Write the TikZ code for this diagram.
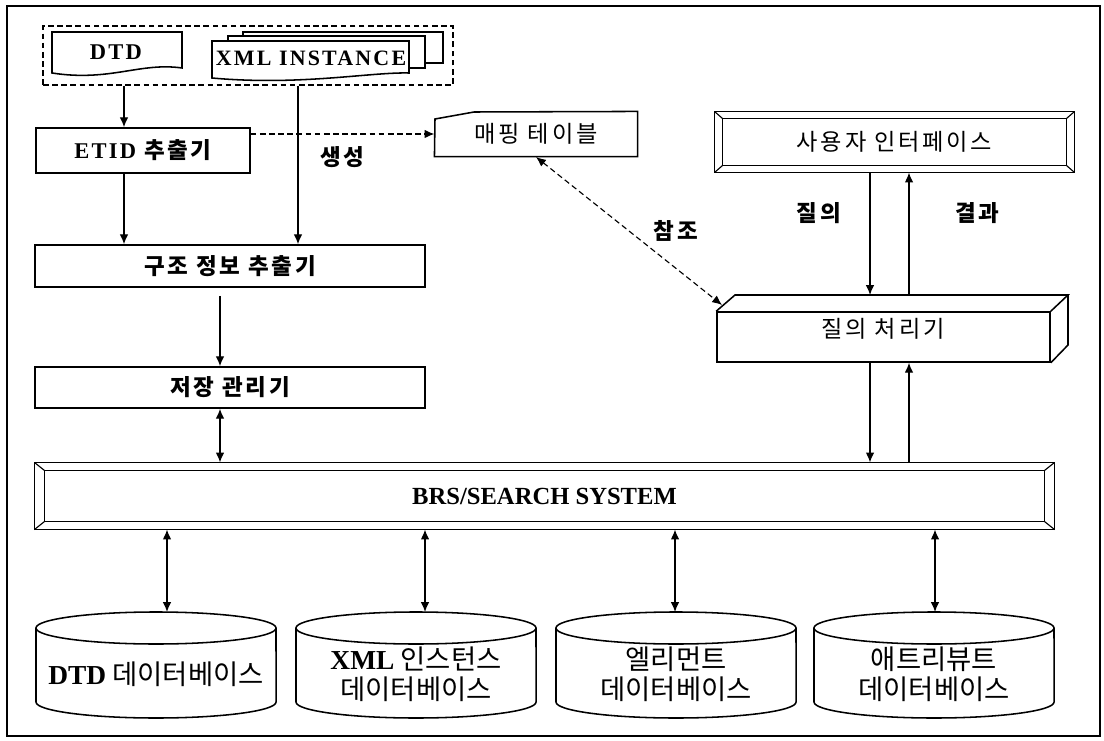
\documentclass[tikz,border=0pt]{standalone}
\usepackage{fontspec}
\setmainfont{Liberation Serif}
\newfontfamily\kr[LetterSpace=12]{Noto Sans CJK KR}
\newfontfamily\krdb{Noto Sans CJK KR}
\newfontfamily\enls[LetterSpace=10]{Liberation Serif}
\usetikzlibrary{arrows.meta,fit}

\tikzset{
  box/.style={draw,line width=1.1pt,inner sep=0pt},
  area/.style={inner sep=0pt},
  arr/.style={-{Latex[length=7pt,width=6pt]},line width=0.8pt},
  dbl/.style={{Latex[length=7pt,width=6pt]}-{Latex[length=7pt,width=6pt]},line width=0.8pt},
  dsh/.style={dash pattern=on 4pt off 2.5pt},
  ko/.style={font=\kr\fontsize{16.5}{19}\selectfont},
  kob/.style={font=\kr\bfseries\fontsize{16}{19}\selectfont},
  en/.style={font=\enls\bfseries\fontsize{16}{19}\selectfont},
  dbtxt/.style={align=center,font=\krdb\fontsize{19.5}{21.5}\selectfont},
}
% bevelled frame round a node: #1 node, #2 x inset, #3 y inset
\newcommand{\bevel}[3]{%
  \draw[line width=1.1pt] (#1.north west) rectangle (#1.south east);
  \draw ([shift={(#2,#3)}]#1.north west) -- ([shift={(-#2,#3)}]#1.north east)
    -- ([shift={(-#2,-#3)}]#1.south east) -- ([shift={(#2,-#3)}]#1.south west) -- cycle;
  \draw (#1.north west) -- ++(#2,#3) (#1.north east) -- ++(-#2,#3)
    (#1.south east) -- ++(-#2,-#3) (#1.south west) -- ++(#2,-#3);}

\begin{document}
\begin{tikzpicture}[x=0.025cm,y=-0.025cm,line width=0.8pt]
\useasboundingbox (0,0) rectangle (1104,741);
\draw[line width=1.8pt] (7,6) rectangle (1100,736);

% input documents
\node[box,dsh,line width=0.8pt,fit={(43,26)(453,85)}] (inp) {};
\draw[line width=1.1pt,fill=white] (52,32) -- (182,32) -- (182,68) .. controls (140,62) and (110,82) .. (52,73) -- cycle;
\node[en] (dtd) at (116,52) {DTD};
\draw[line width=1.1pt,fill=white] (243,32) rectangle (443,63);
\draw[line width=1.1pt,fill=white] (228,36) rectangle (425,68);
\draw[line width=1.1pt,fill=white] (212,41) -- (409,41) -- (409,73) .. controls (370,72) and (300,86) .. (212,78) -- cycle;
\node[font=\enls\bfseries\fontsize{15.6}{19}\selectfont] (xml) at (311,58) {XML INSTANCE};

% left column
\node[box,fit={(36,128)(250,173)},label={[en]center:ETID {\kr\bfseries\fontsize{16}{19}\selectfont 추출기}}] (etid) {};
\node[box,fit={(35,245)(425,287)},label={[kob]center:구조 정보 추출기}] (str) {};
\node[box,fit={(35,367)(425,408)},label={[kob]center:저장 관리기}] (stor) {};

% mapping table
\node[area,fit={(435,112)(637,156)},label={[ko]center:매핑 테이블}] (map) {};
\draw[line width=1.1pt] (map.south west) -- (435,119) -- (474,112) -- (map.north east) -- (map.south east) -- cycle;

% user interface and query processor
\node[area,fit={(715,112)(1074,172)},label={[ko]center:사용자 인터페이스}] (ui) {};
\bevel{ui}{8}{7}
\node[box,fit={(717,312)(1050,362)}] (qp) {};
\draw[line width=1.1pt] (qp.north west) -- (735,295) coordinate (qtop) -- (1068,295) -- (qp.north east)
  (1068,295) -- (1068,345) -- (qp.south east);
\node[ko] (qpt) at (883,329) {질의 처리기};

% search system
\node[area,fit={(35,463)(1054,529)},label={[font=\bfseries\fontsize{17.5}{20}\selectfont]center:BRS/SEARCH SYSTEM}] (brs) {};
\bevel{brs}{10}{8}

% arrow columns
\coordinate (a1) at (124,0);
\coordinate (a2) at (298,0);
\coordinate (a3) at (220,0);
\coordinate (a4) at (870,0);
\coordinate (a5) at (909,0);
\coordinate (g1) at (220,296);
\coordinate (r1) at (536,157);
\coordinate (r2) at (722,305);

\draw[arr] (inp.south -| a1) -- (etid.north -| a1);
\draw[arr] (etid.south -| a1) -- (str.north -| a1);
\draw[arr] (inp.south -| a2) -- (str.north -| a2);
\draw[arr,dsh] (etid.east |- map.west) -- (map.west) node[pos=0.5,below=5pt,kob] (gen) {생성};
\draw[arr] (g1) -- (stor.north -| a3);
\draw[dbl] (stor.south -| a3) -- (brs.north -| a3);
\draw[dbl,dsh] (r1) -- (r2) node[pos=0.5,right=14pt,kob] (ref) {참조};
\draw[arr] (ui.south -| a4) -- (qtop -| a4) node[pos=0.33,left=17pt,kob] (ask) {질의};
\draw[arr] (qtop -| a5) -- (ui.south -| a5) node[pos=0.67,right=29pt,kob] (res) {결과};
\draw[arr] (qp.south -| a4) -- (brs.north -| a4);
\draw[arr] (brs.north -| a5) -- (qp.south -| a5);

% databases
\foreach \i/\x/\ax/\t in {1/156/167/{{\rmfamily\bfseries DTD} 데이터베이스},
    2/416/425/{{\rmfamily\bfseries XML} 인스턴스\\데이터베이스},
    3/676/675/{엘리먼트\\데이터베이스},
    4/934/935/{애트리뷰트\\데이터베이스}}{
  \draw[line width=1.1pt,fill=white] (\x-120,628) -- (\x-120,702)
    arc[start angle=180,end angle=360,x radius=3cm,y radius=0.4cm] -- (\x+120,628);
  \draw[line width=1.1pt] (\x,628) ellipse[x radius=3cm,y radius=0.4cm];
  \node[dbtxt] (db\i) at (\x,674) {\t};
  \coordinate (t\i) at (\ax,612);
  \draw[dbl] (brs.south -| t\i) -- (t\i);
}
\end{tikzpicture}
\end{document}
